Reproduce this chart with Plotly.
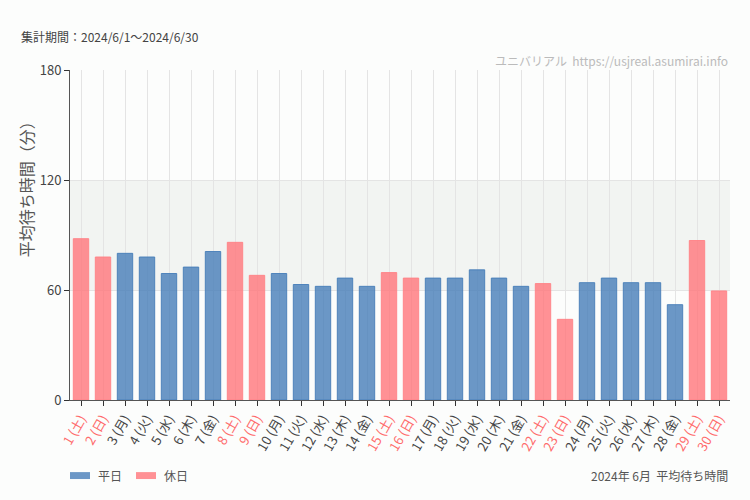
import plotly.graph_objects as go

days = list(range(1, 31))
weekdays = (["土", "日", "月", "火", "水", "木", "金"] * 5)[:30]
holidays = [1, 2, 8, 9, 15, 16, 22, 23, 29, 30]
wait = [88, 78, 80, 78, 69, 72.5, 81, 86, 68, 69, 63, 62, 66.5, 62, 69.5,
        66.5, 66.5, 66.5, 71, 66.5, 62, 63.5, 44, 64, 66.5, 64, 64, 52, 87, 59.5]
series_names = ["平日", "休日"]

FONT = "Noto Sans CJK JP"
BLUE = "rgba(70,125,184,0.8)"
PINK = "rgba(255,118,122,0.8)"
labels = [f"{d} ({w})" for d, w in zip(days, weekdays)]
ticktext = [
    f'<span style="color:#ff6b6b">{l}</span>' if d in holidays else f'<span style="color:#444">{l}</span>'
    for d, l in zip(days, labels)
]

fig = go.Figure()
wk_x = [l for d, l in zip(days, labels) if d not in holidays]
wk_y = [v for d, v in zip(days, wait) if d not in holidays]
ho_x = [l for d, l in zip(days, labels) if d in holidays]
ho_y = [v for d, v in zip(days, wait) if d in holidays]
fig.add_trace(go.Bar(x=wk_x, y=wk_y, name=series_names[0],
                     marker=dict(color=BLUE, line=dict(width=1, color="rgba(70,125,184,0.9)")), width=0.7))
fig.add_trace(go.Bar(x=ho_x, y=ho_y, name=series_names[1],
                     marker=dict(color=PINK, line=dict(width=1, color="rgba(255,130,134,0.9)")), width=0.7))

fig.add_shape(type="rect", xref="paper", yref="y", x0=0, x1=1, y0=60, y1=120,
              fillcolor="rgba(228,230,228,0.4)", line_width=0, layer="below")

# custom legend (wide swatches)
for i, (name, col) in enumerate(zip(series_names, [BLUE, PINK])):
    x0 = 0.0 + i * 0.1
    fig.add_shape(type="rect", xref="paper", yref="paper", x0=x0, x1=x0 + 0.0303,
                  y0=-0.2395, y1=-0.2185, fillcolor=col, line_width=0)
    fig.add_annotation(text=name, xref="paper", yref="paper", x=x0 + 0.039, y=-0.229,
                       xanchor="left", yanchor="middle", showarrow=False,
                       font=dict(size=12, color="#555"))

fig.update_layout(
    width=750, height=500,
    margin=dict(l=70, r=20, t=70, b=100),
    paper_bgcolor="#fcfdfc", plot_bgcolor="#fcfdfc",
    font=dict(family=FONT, color="#444", size=12),
    barmode="overlay",
    showlegend=False,
    xaxis=dict(categoryorder="array", categoryarray=labels, tickmode="array",
               tickvals=labels, ticktext=ticktext, tickangle=-60,
               showgrid=True, gridcolor="#e4e4e4", ticks="outside", ticklen=5,
               tickcolor="#333", showline=True, linecolor="#555",
               tickfont=dict(size=13)),
    yaxis=dict(range=[0, 180], tickvals=[0, 60, 120, 180], showgrid=True,
               gridcolor="#e4e4e4", ticks="outside", ticklen=5, tickcolor="#333",
               showline=True, linecolor="#555", zeroline=False,
               tickfont=dict(size=13, color="#444")),
    annotations=list(fig.layout.annotations) + [
        dict(text="平均待ち時間（分）", xref="paper", yref="paper", x=-0.067, y=0.65,
             xanchor="center", yanchor="middle", textangle=-90, showarrow=False,
             font=dict(size=16, color="#555")),
        dict(text="集計期間：2024/6/1～2024/6/30", xref="paper", yref="paper", x=-0.077, y=1.10,
             xanchor="left", yanchor="middle", showarrow=False, font=dict(size=12, color="#444")),
        dict(text="ユニバリアル  https://usjreal.asumirai.info", xref="paper", yref="paper", x=1.0, y=1.03,
             xanchor="right", yanchor="middle", showarrow=False,
             font=dict(size=12, color="#bbb")),
        dict(text="2024年 6月  平均待ち時間", xref="paper", yref="paper", x=1.0, y=-0.228,
             xanchor="right", yanchor="middle", showarrow=False, font=dict(size=12, color="#555")),
    ],
)
fig.write_html("out.html", config={"displayModeBar": False},
               post_script="document.body.style.margin='0';")
